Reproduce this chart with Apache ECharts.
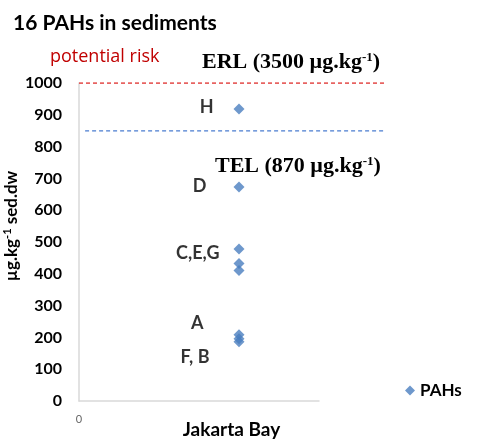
<!DOCTYPE html>
<html><head><meta charset="utf-8">
<script src="https://cdn.jsdelivr.net/npm/echarts@6/dist/echarts.min.js"></script>
<style>html,body{margin:0;padding:0;background:#fff}#c{width:496px;height:444px}</style>
</head><body><div id="c"></div>
<script>
const site = 'Jakarta Bay';
const seriesName = 'PAHs';
const sampleValues = [918, 673, 478, 432, 410, 208, 196, 186];
const sampleLabels = ['H', 'D', 'C,E,G', '', '', 'A', '', 'F, B'];
const erlLine = [[0, 1000], [1, 1000]];
const telLine = [[0.02, 843], [1, 843]];
const yTicks = [0, 1000, 100];

const labelStyle = {
  'H': {distance: 20, offset: [0, -2]},
  'D': {distance: 27, offset: [0, -1]},
  'C,E,G': {distance: 14, offset: [0, 4]},
  'A': {distance: 30, offset: [0, -12]},
  'F, B': {distance: 24, offset: [0, 15]}
};
const data = sampleValues.map((v, i) => {
  const lb = sampleLabels[i];
  const item = {value: [1, v]};
  if (lb) {
    item.label = Object.assign({show: true, position: 'left', formatter: lb,
      fontFamily: 'Lato', fontWeight: 'bold', fontSize: 18, color: '#000'}, labelStyle[lb]);
  }
  return item;
});

const chart = echarts.init(document.getElementById('c'));
const serif = 'Liberation Serif';
const supStyle = {fontFamily: serif, fontWeight: 'bold', fontSize: 13, verticalAlign: 'top', padding: [0, 0, 9, 0]};
chart.setOption({
  animation: false,
  textStyle: {fontFamily: 'Lato'},
  title: [
    {text: '16 PAHs in sediments', left: 8, top: 8, textStyle: {fontFamily: 'Lato', fontWeight: 'bold', fontSize: 21, color: '#000'}},
    {text: 'potential risk', left: 45, top: 43, textStyle: {fontFamily: 'Open Sans', fontWeight: 500, fontSize: 18, color: '#c00000'}},
    {text: 'ERL (3500 µg.kg{sup|-1})', left: 197, top: 46,
     textStyle: {fontFamily: serif, fontWeight: 'bold', fontSize: 22, color: '#000', rich: {sup: supStyle}}},
    {text: 'TEL (870 µg.kg{sup|-1})', left: 210, top: 150,
     textStyle: {fontFamily: serif, fontWeight: 'bold', fontSize: 22, color: '#000', rich: {sup: supStyle}}}
  ],
  legend: {
    data: [{name: seriesName, icon: 'diamond'}],
    left: 400, top: 377, itemWidth: 10, itemHeight: 10, itemGap: 5,
    textStyle: {fontFamily: 'Lato', fontWeight: 'bold', fontSize: 17, color: '#000'}
  },
  grid: [
    {left: 79, right: 177, top: 83, bottom: 43},
    {left: 79, right: 112, top: 83, bottom: 43}
  ],
  xAxis: [
    {gridIndex: 0, type: 'value', min: 0, max: 1.5, interval: 1.5,
     axisLine: {show: true, lineStyle: {color: '#d9d9d9', width: 1.5}}, axisTick: {show: false}, splitLine: {show: false},
     axisLabel: {formatter: v => v === 0 ? '0' : '', margin: 13, fontSize: 11, color: '#666'}},
    {gridIndex: 1, type: 'value', min: 0, max: 1, show: true,
     axisLine: {show: false}, axisTick: {show: false}, splitLine: {show: false}, axisLabel: {show: false},
     name: site, nameLocation: 'middle', nameGap: 32,
     nameTextStyle: {fontFamily: 'Lato', fontWeight: 'bold', fontSize: 19, color: '#000'}}
  ],
  yAxis: [
    {gridIndex: 0, type: 'value', min: yTicks[0], max: yTicks[1], interval: yTicks[2],
     axisLine: {show: true, lineStyle: {color: '#d9d9d9', width: 1.5}}, axisTick: {show: false}, splitLine: {show: false},
     axisLabel: {margin: 17, fontFamily: 'Lato', fontWeight: 'bold', fontSize: 16, color: '#000', formatter: v => String(v)},
     name: 'µg.kg{sup|-1} sed.dw', nameLocation: 'middle', nameGap: 58, nameRotate: 90,
     nameTextStyle: {fontFamily: 'Lato', fontWeight: 'bold', fontSize: 17, color: '#000', padding: [0, 0, 0, 32],
       rich: {sup: {fontFamily: 'Lato', fontWeight: 'bold', fontSize: 11, verticalAlign: 'top', padding: [0, 0, 8, 0]}}}},
    {gridIndex: 1, type: 'value', min: yTicks[0], max: yTicks[1], show: false}
  ],
  series: [
    {name: seriesName, type: 'scatter', xAxisIndex: 0, yAxisIndex: 0, symbol: 'diamond', symbolSize: 11,
     itemStyle: {color: '#4a7ebf'}, data: data, z: 3},
    {name: 'ERL', type: 'line', xAxisIndex: 1, yAxisIndex: 1, data: erlLine, silent: true, symbol: 'none',
     lineStyle: {color: '#e0302e', type: [4, 3], width: 1.3, opacity: 1}},
    {name: 'TEL', type: 'line', xAxisIndex: 1, yAxisIndex: 1, data: telLine, silent: true, symbol: 'none',
     lineStyle: {color: '#4a7cd0', type: [4, 3], width: 1.3, opacity: 1}}
  ]
});
</script></body></html>
